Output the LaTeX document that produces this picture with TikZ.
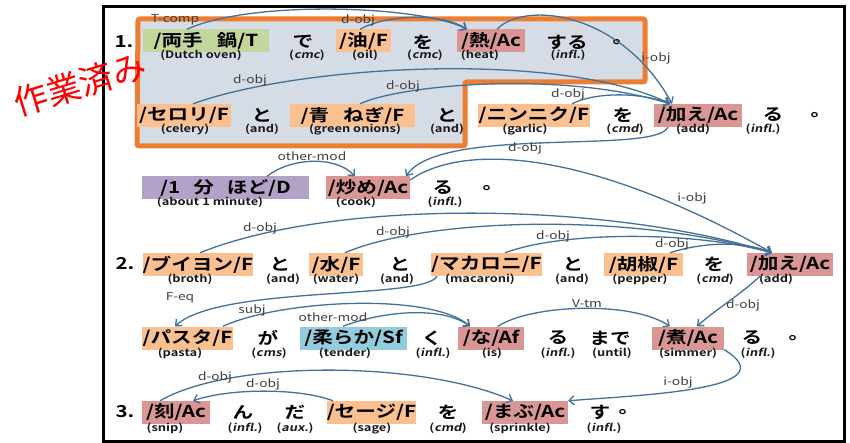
\documentclass[tikz,border=0pt]{standalone}
\usepackage{fontspec}
\setmainfont{Noto Sans CJK JP}[FakeStretch=1.25,
  BoldFont={Noto Sans CJK JP Bold},
  ItalicFont={Noto Sans CJK JP}, ItalicFeatures={FakeSlant=0.2},
  BoldItalicFont={Noto Sans CJK JP Bold}, BoldItalicFeatures={FakeSlant=0.2}]
\newfontfamily\stampfont{Noto Sans CJK JP}
\usetikzlibrary{arrows.meta}
\definecolor{cG}{HTML}{C3D69B}
\definecolor{cF}{HTML}{FAC08F}
\definecolor{cA}{HTML}{D99694}
\definecolor{cD}{HTML}{B3A2C7}
\definecolor{cS}{HTML}{93CDDD}
\definecolor{cFrame}{HTML}{ED7D31}
\definecolor{cBg}{HTML}{D6DCE5}
\definecolor{cArc}{HTML}{41719C}
\tikzset{
  wd/.style={font=\bfseries\fontsize{16.5}{16.5}\selectfont, inner sep=0pt},
  bx/.style={wd, minimum height=23pt},
  gl/.style={font=\bfseries\fontsize{10.3}{10.3}\selectfont, inner sep=0pt, text=black!90},
  lb/.style={font=\fontsize{11}{11}\selectfont, inner sep=0pt, text=black!75},
  arc/.style={draw=cArc, line width=1.3pt, -{Straight Barb[length=5pt,width=9pt]}},
}
\begin{document}
\begin{tikzpicture}[x=1pt,y=-1pt]
\useasboundingbox (0,0) rectangle (850,443);
\fill[white] (0,0) rectangle (850,443);
\draw[line width=3pt] (103,7) rectangle (844,441);
\filldraw[fill=cBg, draw=cFrame, line width=5pt, rounded corners=2pt]
  (138,19) -- (645,19) -- (645,82) -- (465,82) -- (465,146) -- (137,146) -- cycle;

% row 1
\node[wd] (n1) at (124,42) {1.};
\node[bx, fill=cG, minimum width=126pt] (a1) at (206,41) {/両手\hspace{14pt}鍋/T};
\node[gl] (ga1) at (201,55) {(Dutch oven)};
\node[wd] (w11) at (303,42) {で};
\node[gl] (g11) at (307,55) {(\textit{cmc})};
\node[bx, fill=cF, minimum width=55pt] (a2) at (363.5,41) {/油/F};
\node[gl] (ga2) at (365,55) {(oil)};
\node[wd] (w12) at (423,42) {を};
\node[gl] (g12) at (425,55) {(\textit{cmc})};
\node[bx, fill=cA, minimum width=68pt] (a3) at (491,41) {/熱/Ac};
\node[gl] (ga3) at (480,55) {(heat)};
\node[wd] (w13) at (567,42) {する};
\node[gl] (g13) at (568,55) {(\textit{infl.})};
\node[wd] (w14) at (623,42) {。};

% row 2
\node[bx, fill=cF, minimum width=94pt] (b1) at (184,115.5) {/セロリ/F};
\node[gl] (gb1) at (185,129) {(celery)};
\node[wd] (w21) at (262,115) {と};
\node[gl] (g21) at (262,129) {(and)};
\node[bx, fill=cF, minimum width=125pt] (b2) at (352.5,115.5) {/青\hspace{14pt}ねぎ/F};
\node[gl] (gb2) at (355,129) {(green onions)};
\node[wd] (w22) at (447,115) {と};
\node[gl] (g22) at (447,129) {(and)};
\node[bx, fill=cF, minimum width=112pt] (b3) at (534,115.5) {/ニンニク/F};
\node[gl] (gb3) at (525,129) {(garlic)};
\node[wd] (w23) at (623,115) {を};
\node[gl] (g23) at (625,129) {(\textit{cmd})};
\node[bx, fill=cA, minimum width=88pt] (b4) at (698,115.5) {/加え/Ac};
\node[gl] (gb4) at (693,129) {(add)};
\node[wd] (w24) at (773,115) {る};
\node[gl] (g24) at (763,129) {(\textit{infl.})};
\node[wd] (w25) at (821,115) {。};

% row 3
\node[bx, fill=cD, minimum width=167pt] (c1) at (225.5,188) {/1\hspace{13pt}分\hspace{13pt}ほど/D};
\node[gl] (gc1) at (210,202) {(about 1 minute)};
\node[bx, fill=cA, minimum width=84pt] (c2) at (368,188) {/炒め/Ac};
\node[gl] (gc2) at (356,202) {(cook)};
\node[wd] (w31) at (443,188) {る};
\node[gl] (g31) at (445,202) {(\textit{infl.})};
\node[wd] (w32) at (493,188) {。};

% row 4
\node[wd] (n2) at (125,264) {2.};
\node[bx, fill=cF, minimum width=100pt] (d1) at (198,264.5) {/ブイヨン/F};
\node[gl] (gd1) at (190,279) {(broth)};
\node[wd] (w41) at (280,264) {と};
\node[gl] (g41) at (283,279) {(and)};
\node[bx, fill=cF, minimum width=54pt] (d2) at (336,264.5) {/水/F};
\node[gl] (gd2) at (336,279) {(water)};
\node[wd] (w42) at (400,264) {と};
\node[gl] (g42) at (397,279) {(and)};
\node[bx, fill=cF, minimum width=109pt] (d3) at (486.5,264.5) {/マカロニ/F};
\node[gl] (gd3) at (480,279) {(macaroni)};
\node[wd] (w43) at (573,264) {と};
\node[gl] (g43) at (572,279) {(and)};
\node[bx, fill=cF, minimum width=79pt] (d4) at (643.5,264.5) {/胡椒/F};
\node[gl] (gd4) at (640,279) {(pepper)};
\node[wd] (w44) at (714,264) {を};
\node[gl] (g44) at (715,279) {(\textit{cmd})};
\node[bx, fill=cA, minimum width=86pt] (d5) at (790,264.5) {/加え/Ac};
\node[gl] (gd5) at (776,279) {(add)};

% row 5
\node[bx, fill=cF, minimum width=91pt] (e1) at (187.5,338) {/パスタ/F};
\node[gl] (ge1) at (180,353) {(pasta)};
\node[wd] (w51) at (268,338) {が};
\node[gl] (g51) at (269,353) {(\textit{cms})};
\node[bx, fill=cS, minimum width=107pt] (e2) at (353.5,338) {/柔らか/Sf};
\node[gl] (ge2) at (345,353) {(tender)};
\node[wd] (w52) at (432,338) {く};
\node[gl] (g52) at (433,353) {(\textit{infl.})};
\node[bx, fill=cA, minimum width=66pt] (e3) at (491,338) {/な/Af};
\node[gl] (ge3) at (492,353) {(is)};
\node[wd] (w53) at (558,338) {る};
\node[gl] (g53) at (558,353) {(\textit{infl.})};
\node[wd] (w54) at (610,338) {まで};
\node[gl] (g54) at (612,353) {(until)};
\node[bx, fill=cA, minimum width=72pt] (e4) at (688,338) {/煮/Ac};
\node[gl] (ge4) at (688,353) {(simmer)};
\node[wd] (w55) at (752,338) {る};
\node[gl] (g55) at (758,353) {(\textit{infl.})};
\node[wd] (w56) at (799,338) {。};

% row 6
\node[wd] (n3) at (125,412) {3.};
\node[bx, fill=cA, minimum width=68pt] (f1) at (176,412.5) {/刻/Ac};
\node[gl] (gf1) at (165,428) {(snip)};
\node[wd] (w61) at (243,412) {ん};
\node[gl] (g61) at (245,428) {(\textit{infl.})};
\node[wd] (w62) at (295,412) {だ};
\node[gl] (g62) at (295,428) {(\textit{aux.})};
\node[bx, fill=cF, minimum width=89pt] (f2) at (371.5,412.5) {/セージ/F};
\node[gl] (gf2) at (372,428) {(sage)};
\node[wd] (w63) at (448,412) {を};
\node[gl] (g63) at (448,428) {(\textit{cmd})};
\node[bx, fill=cA, minimum width=86pt] (f3) at (525,412.5) {/まぶ/Ac};
\node[gl] (gf3) at (520,428) {(sprinkle)};
\node[wd] (w64) at (600,412) {す};
\node[wd] (w65) at (629,412) {。};
\node[gl] (g64) at (604,428) {(\textit{infl.})};

% arcs
\draw[arc] ([xshift=-19pt]a1.north) .. controls (250,0) and (420,5) .. ([xshift=-24pt]a3.north);
\draw[arc] ([xshift=-3.5pt]a2.north) .. controls (385,15) and (440,12) .. ([xshift=-24pt]a3.north);
\draw[arc] ([xshift=6pt]a3.north) .. controls (525,0) and (622,12) .. ([xshift=-26pt]b4.north);
\draw[arc] ([xshift=9pt]b1.north) .. controls (300,65) and (560,50) .. ([xshift=-28pt]b4.north);
\draw[arc] ([xshift=7.5pt]b2.north) .. controls (400,85) and (560,70) .. ([xshift=-28pt]b4.north);
\draw[arc] ([xshift=38pt]b3.north) .. controls (595,92) and (640,92) .. ([xshift=-28pt]b4.north);
\draw[arc] ([xshift=-30pt]b4.south) .. controls (655,155) and (440,125) .. ([xshift=38pt]c2.north);
\draw[arc] ([xshift=41.5pt]c1.north) .. controls (290,158) and (335,155) .. ([xshift=-13pt]c2.north);
\draw[arc] ([yshift=8pt]c2.east) .. controls (460,145) and (580,145) .. ([xshift=-18pt]d5.north);
\draw[arc] ([xshift=2pt]d1.north) .. controls (330,200) and (600,200) .. ([xshift=-18pt]d5.north);
\draw[arc] ([xshift=9pt]d2.north) .. controls (420,220) and (620,210) .. ([xshift=-18pt]d5.north);
\draw[arc] ([xshift=18.5pt]d3.north) .. controls (560,232) and (690,230) .. ([xshift=-18pt]d5.north);
\draw[arc] ([xshift=26.5pt]d4.north) .. controls (700,243) and (740,240) .. ([xshift=-18pt]d5.north);
\draw[arc] ([xshift=-49.5pt]d3.south) .. controls (425,300) and (220,285) .. ([xshift=-12.5pt]e1.north);
\draw[arc] ([xshift=35.5pt]e1.north) .. controls (280,300) and (430,292) .. ([xshift=-21pt]e3.north);
\draw[arc] ([xshift=-10.5pt]e2.north) .. controls (380,312) and (440,305) .. ([xshift=-21pt]e3.north);
\draw[arc] ([xshift=7pt]e3.north) .. controls (530,305) and (630,300) .. ([xshift=-18pt]e4.north);
\draw[arc] ([xshift=-30pt]d5.south) .. controls (740,295) and (715,310) .. ([xshift=9pt]e4.north);
\draw[arc] (e4.south east) .. controls (790,390) and (640,395) .. (f3.north east);
\draw[arc] ([xshift=-16pt]f1.north) .. controls (230,360) and (420,360) .. ([xshift=-12pt]f3.north);
\draw[arc] ([xshift=-38.5pt]f2.north) .. controls (300,388) and (230,388) .. ([xshift=17pt]f1.north);

% labels
\node[lb] (l1) at (175,20) {T-comp};
\node[lb] (l2) at (358,20) {d-obj};
\node[lb] (l3) at (656,58) {i-obj};
\node[lb] (l4) at (250,80) {d-obj};
\node[lb] (l5) at (403,86) {d-obj};
\node[lb] (l6) at (568,94) {d-obj};
\node[lb] (l7) at (525,148) {d-obj};
\node[lb] (l8) at (312,156) {other-mod};
\node[lb] (l9) at (692,198) {i-obj};
\node[lb] (l10) at (260,228) {d-obj};
\node[lb] (l11) at (393,232) {d-obj};
\node[lb] (l12) at (553,236) {d-obj};
\node[lb] (l13) at (672,244) {d-obj};
\node[lb] (l14) at (180,298) {F-eq};
\node[lb] (l15) at (252,310) {subj};
\node[lb] (l16) at (333,317) {other-mod};
\node[lb] (l17) at (587,304) {V-tm};
\node[lb] (l18) at (743,305) {d-obj};
\node[lb] (l19) at (678,382) {i-obj};
\node[lb] (l20) at (215,377) {d-obj};
\node[lb] (l21) at (263,384) {d-obj};

% stamp
\node[font=\stampfont\fontsize{34}{34}\selectfont, text=red, rotate=17, inner sep=0pt] (stamp) at (80,84) {作業済み};
\end{tikzpicture}
\end{document}
